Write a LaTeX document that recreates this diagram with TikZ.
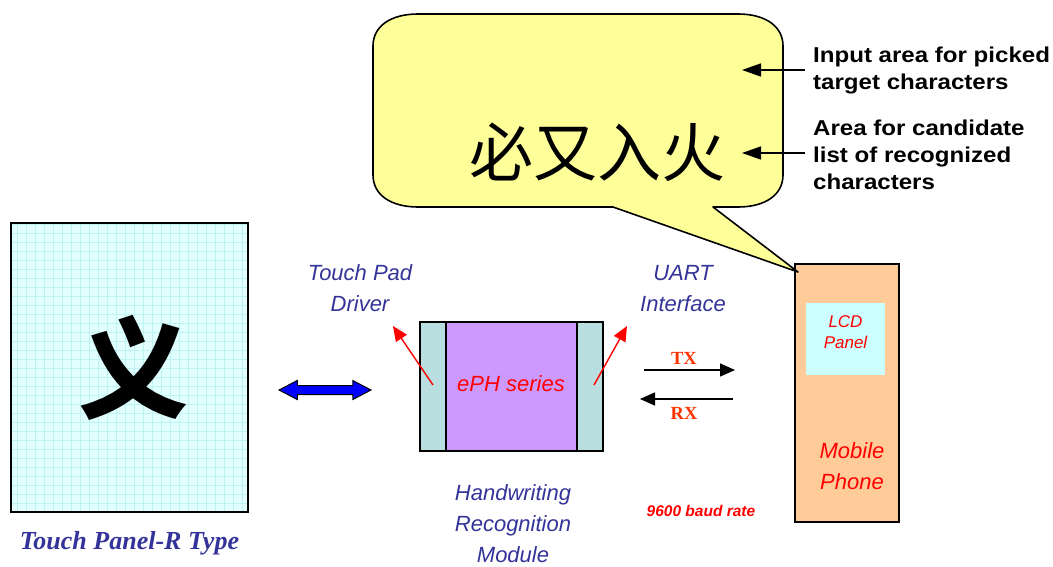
\documentclass[tikz,border=0pt]{standalone}
\usepackage{fontspec}
\setmainfont{Liberation Sans}
\newfontfamily\serifbi{Liberation Serif}
\newfontfamily\notefont[FakeStretch=1.12]{Liberation Sans}
\newfontfamily\cjk{Noto Sans CJK SC}
\usetikzlibrary{positioning,arrows.meta,shapes.arrows}
\definecolor{navy}{HTML}{333399}
\definecolor{txred}{HTML}{FF3300}
\definecolor{padcyan}{HTML}{E2FFFF}
\definecolor{gridcyan}{HTML}{BFF3F3}
\definecolor{bandteal}{HTML}{B8DEE0}
\definecolor{ephpurple}{HTML}{CC99FF}
\definecolor{phonepeach}{HTML}{FFCC99}
\definecolor{lcdcyan}{HTML}{CCFFFF}
\definecolor{bubble}{HTML}{FFFF99}
\tikzset{
  >=Stealth,
  box/.style={draw=black, line width=1.6pt, inner sep=0pt},
  navytxt/.style={text=navy, align=center, inner sep=0pt,
    font=\fontsize{22}{31}\selectfont\itshape},
  redtxt/.style={text=red, align=center, inner sep=0pt,
    font=\fontsize{22}{31}\selectfont\itshape},
  notetxt/.style={align=left, anchor=west, inner sep=0pt,
    font=\notefont\fontsize{21.5}{27}\selectfont\bfseries},
  redarrow/.style={red, line width=1.4pt, -{Triangle[length=15pt,width=13pt]}},
  linkarrow/.style={black, line width=1.5pt, -{Triangle[length=15pt,width=13pt]}},
  notearrow/.style={black, line width=1.5pt, -{Triangle[length=19pt,width=13pt]}},
}
\begin{document}
\begin{tikzpicture}[x=1pt, y=-1pt]
  \useasboundingbox (0,0) rectangle (1053,567);

  % touch panel with its grid
  \node[box, fill=padcyan, minimum width=237pt, minimum height=289pt,
        path picture={\draw[gridcyan, line width=0.5pt]
          (path picture bounding box.south west) grid[step=9pt]
          (path picture bounding box.north east);}]
        (panel) at (129.5,367.5)
        {\hspace*{7pt}\raisebox{4pt}{\cjk\bfseries\fontsize{110}{110}\selectfont 义}};
  \node[text=navy, inner sep=0pt, below=18pt of panel,
        font=\serifbi\fontsize{26}{26}\selectfont\bfseries\itshape]
        (paneltxt) {Touch Panel-R Type};

  \node[double arrow, draw=black, fill=blue, line width=1pt, inner sep=4pt,
        minimum height=92pt, minimum width=18pt,
        double arrow head extend=5pt, double arrow tip angle=55]
        (link) at (325,390) {};

  % handwriting module
  \node[box, fill=ephpurple, minimum width=183pt, minimum height=129pt]
        (eph) at (511.5,386.5) {};
  \node[box, fill=bandteal, minimum width=26pt, minimum height=129pt,
        anchor=west] (bandl) at (eph.west) {};
  \node[box, fill=bandteal, minimum width=26pt, minimum height=129pt,
        anchor=east] (bandr) at (eph.east) {};
  \node[redtxt] (ephtxt) at (511,384) {ePH series};
  \node[navytxt] (modtxt) at (513,524) {Handwriting\\Recognition\\Module};

  \node[navytxt] (tpd) at (360,288.5) {Touch Pad\\Driver};
  \node[navytxt] (uart) at (683,288.5) {UART\\Interface};
  \coordinate (tpdfrom) at (433,385);
  \coordinate (tpdto) at (393,326);
  \coordinate (uartfrom) at (594,385);
  \coordinate (uartto) at (627,326);
  \draw[redarrow] (tpdfrom) -- (tpdto);
  \draw[redarrow] (uartfrom) -- (uartto);

  % serial lines
  \coordinate (txa) at (644,370);
  \coordinate (txb) at (735,370);
  \coordinate (rxa) at (733,399);
  \coordinate (rxb) at (640,399);
  \draw[linkarrow] (txa) -- (txb);
  \draw[linkarrow] (rxa) -- (rxb);
  \node[text=txred, inner sep=0pt, font=\serifbi\fontsize{18.5}{18.5}\selectfont\bfseries]
        (tx) at (684,358) {TX};
  \node[text=txred, inner sep=0pt, font=\serifbi\fontsize{18.5}{18.5}\selectfont\bfseries]
        (rx) at (684,413) {RX};
  \node[text=red, inner sep=0pt, font=\fontsize{15.5}{15.5}\selectfont\bfseries\itshape]
        (baud) at (701,511) {9600 baud rate};

  % mobile phone
  \node[box, fill=phonepeach, minimum width=104pt, minimum height=258pt]
        (phone) at (847,393) {};
  \node[fill=lcdcyan, inner sep=0pt, minimum width=79pt, minimum height=72pt]
        (lcd) at (845.5,339) {};
  \node[redtxt, font=\fontsize{17}{21}\selectfont\itshape]
        (lcdtxt) at ([yshift=7pt]lcd.center) {LCD\\Panel};
  \node[redtxt] (phonetxt) at (852,466) {Mobile\\Phone};

  % speech bubble of the phone screen
  \draw[fill=bubble, line width=1.6pt, line join=round]
    (418,14) -- (738,14) .. controls (765,14) and (783,26) .. (783,46)
    -- (783,175) .. controls (783,195) and (765,207) .. (738,207)
    -- (713,207) -- (798,272) -- (613,207)
    -- (418,207) .. controls (391,207) and (373,195) .. (373,175)
    -- (373,46) .. controls (373,26) and (391,14) .. (418,14) -- cycle;
  \node[inner sep=0pt, font=\cjk\fontsize{64}{64}\selectfont]
        (cand) at (597,152) {必又入火};

  \node[notetxt] (inpnote) at (813,70) {Input area for picked\\target characters};
  \node[notetxt] (candnote) at (813,155) {Area for candidate\\list of recognized\\characters};
  \coordinate (inparea) at (742,70);
  \coordinate (candarea) at (742,153);
  \draw[notearrow] ([xshift=-8pt]inpnote.west) -- (inparea);
  \draw[notearrow] ([xshift=-8pt,yshift=2pt]candnote.west) -- (candarea);
\end{tikzpicture}
\end{document}
